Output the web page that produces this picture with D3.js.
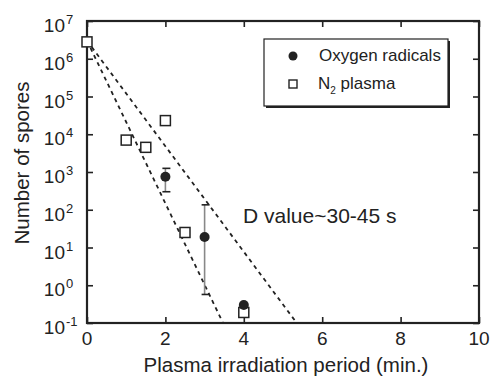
<!DOCTYPE html>
<html><head><meta charset="utf-8">
<script src="https://cdn.jsdelivr.net/npm/d3@7"></script>
<style>body{margin:0;background:#fff}svg{display:block}text{font-family:"Liberation Sans",Arial,sans-serif;fill:#222}</style>
</head><body><svg id="c" width="493" height="378"></svg>
<script>
const xTicks = [0, 2, 4, 6, 8, 10];
const yExps = [-1, 0, 1, 2, 3, 4, 5, 6, 7];
const n2Time = [0, 1, 1.5, 2, 2.5, 4];
const n2Spores = [2.8e6, 7e3, 4.5e3, 2.3e4, 25, 0.19];
const oxTime = [2, 3, 4];
const oxSpores = [750, 19, 0.3];
const oxErrLow = [300, 0.57, null];
const oxErrHigh = [1250, 135, null];
const fitTime = [[0, 3.47], [0, 5.35]];
const fitSpores = [[3e6, 0.1], [3e6, 0.1]];

const svg = d3.select("#c");
const L = 87, R = 479, T = 21, B = 323;
const x = d3.scaleLinear().domain([0, 10]).range([L, R]);
const y = d3.scaleLog().domain([0.1, 1e7]).range([B, T]);
const ink = "#222";

// axes frame
svg.append("rect").attr("x", L).attr("y", T).attr("width", R - L).attr("height", B - T)
  .attr("fill", "none").attr("stroke", ink).attr("stroke-width", 2.2);

// ticks
const yt = yExps.map(e => Math.pow(10, e));
const axL = d3.axisLeft(y).tickValues(yt).tickSize(-6).tickFormat("");
const axR = d3.axisRight(y).tickValues(yt).tickSize(-6).tickFormat("");
const axB = d3.axisBottom(x).tickValues(xTicks).tickSize(-6).tickFormat("");
const axT = d3.axisTop(x).tickValues(xTicks).tickSize(-6).tickFormat("");
[[axL, `translate(${L},0)`], [axR, `translate(${R},0)`], [axB, `translate(0,${B})`], [axT, `translate(0,${T})`]].forEach(([a, t]) => {
  const g = svg.append("g").attr("transform", t).call(a);
  g.select(".domain").remove();
  g.selectAll("line").attr("stroke", ink).attr("stroke-width", 1.6);
});

// y tick labels
yExps.forEach(e => {
  const yy = y(Math.pow(10, e));
  svg.append("text").attr("x", 65).attr("y", yy + 11).attr("text-anchor", "end")
    .attr("font-size", 19).text("10");
  svg.append("text").attr("x", 66).attr("y", yy + 3).attr("font-size", 13).text(e);
});
// x tick labels
xTicks.forEach(v => {
  svg.append("text").attr("x", x(v)).attr("y", B + 22).attr("text-anchor", "middle")
    .attr("font-size", 19).text(v);
});

// axis titles
svg.append("text").attr("x", 286).attr("y", 372).attr("text-anchor", "middle")
  .attr("font-size", 20.5).text("Plasma irradiation period (min.)");
svg.append("text").attr("transform", "translate(29,163) rotate(-90)").attr("text-anchor", "middle")
  .attr("font-size", 20.5).text("Number of spores");

// fit lines
const line = d3.line().x(d => x(d[0])).y(d => y(d[1]));
fitTime.forEach((ts, i) => {
  svg.append("path").attr("d", line(ts.map((t, j) => [t, fitSpores[i][j]])))
    .attr("fill", "none").attr("stroke", ink).attr("stroke-width", 1.8).attr("stroke-dasharray", "4,4");
});

// error bars
oxTime.forEach((t, i) => {
  if (oxErrLow[i] == null) return;
  const cx = x(t);
  svg.append("line").attr("x1", cx).attr("x2", cx).attr("y1", y(oxErrHigh[i])).attr("y2", y(oxErrLow[i]))
    .attr("stroke", "#888").attr("stroke-width", 1.6);
  [oxErrHigh[i], oxErrLow[i]].forEach(v => {
    svg.append("line").attr("x1", cx - 3).attr("x2", cx + 5).attr("y1", y(v)).attr("y2", y(v))
      .attr("stroke", ink).attr("stroke-width", 1.6);
  });
});

// N2 squares
n2Time.forEach((t, i) => {
  svg.append("rect").attr("x", x(t) - 5).attr("y", y(n2Spores[i]) - 5).attr("width", 10).attr("height", 10)
    .attr("fill", "#fff").attr("stroke", ink).attr("stroke-width", 1.5);
});
// oxygen circles
oxTime.forEach((t, i) => {
  svg.append("circle").attr("cx", x(t)).attr("cy", y(oxSpores[i])).attr("r", 5).attr("fill", ink);
});

// annotation
svg.append("text").attr("x", 243).attr("y", 223).attr("font-size", 21).text("D value~30-45 s");

// legend
svg.append("rect").attr("x", 266).attr("y", 41).attr("width", 184).attr("height", 67).attr("fill", ink);
svg.append("rect").attr("x", 264).attr("y", 39).attr("width", 184).attr("height", 67)
  .attr("fill", "#fff").attr("stroke", ink).attr("stroke-width", 1.2);
svg.append("circle").attr("cx", 293).attr("cy", 56).attr("r", 4.5).attr("fill", ink);
svg.append("text").attr("x", 319).attr("y", 61).attr("font-size", 17).text("Oxygen radicals");
svg.append("rect").attr("x", 289).attr("y", 80).attr("width", 8).attr("height", 8)
  .attr("fill", "#fff").attr("stroke", ink).attr("stroke-width", 1.4);
const lt = svg.append("text").attr("x", 318).attr("y", 89).attr("font-size", 17);
lt.append("tspan").text("N");
lt.append("tspan").attr("dy", 5).attr("font-size", 10).text("2");
lt.append("tspan").attr("dy", -5).text(" plasma");
</script></body></html>
